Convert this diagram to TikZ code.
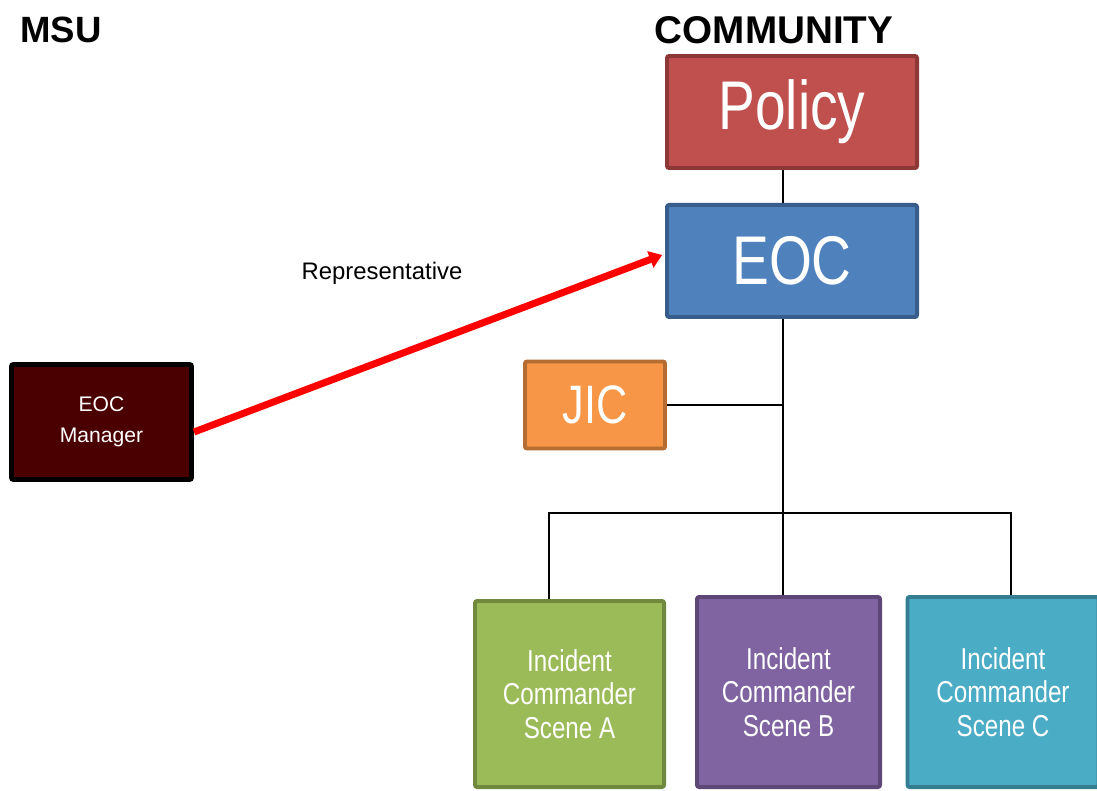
\documentclass[tikz,border=0pt]{standalone}
\usepackage{fontspec}
\setmainfont{Liberation Sans}
\newfontfamily\narrowsf[FakeStretch=0.8]{Liberation Sans}
\usepackage{tikz}
\usetikzlibrary{positioning,arrows.meta}
\definecolor{policyfill}{HTML}{C0504D}
\definecolor{policyline}{HTML}{8C3836}
\definecolor{eocfill}{HTML}{4F81BD}
\definecolor{eocline}{HTML}{385D8A}
\definecolor{jicfill}{HTML}{F79646}
\definecolor{jicline}{HTML}{B66D31}
\definecolor{mgrfill}{HTML}{4A0000}
\definecolor{scenea}{HTML}{9BBB59}
\definecolor{sceneaa}{HTML}{71893F}
\definecolor{sceneb}{HTML}{8064A2}
\definecolor{scenebb}{HTML}{5C4776}
\definecolor{scenec}{HTML}{4BACC6}
\definecolor{scenecc}{HTML}{357D91}

\begin{document}
\begin{tikzpicture}[x=0.025cm,y=-0.025cm,
    unit/.style={draw, line width=2.8pt, rounded corners=1.5pt, text=white, align=center, inner sep=0pt},
    bigunit/.style={unit, minimum width=6.25cm, minimum height=2.8cm, font=\narrowsf\fontsize{49}{52}\selectfont},
    scene/.style={unit, font=\narrowsf\fontsize{21.5}{24}\selectfont},
    title/.style={font=\bfseries\fontsize{26}{28}\selectfont},
    link/.style={line width=1.2pt}]
  \useasboundingbox (0,0) rectangle (1097,790);
  \node[title] (msu) at (61,30) {MSU};
  \node[title, font=\bfseries\fontsize{27.5}{30}\selectfont] (comm) at (774,30) {COMMUNITY};
  \node[bigunit, fill=policyfill, draw=policyline] (policy) at (792,112) {Policy};
  \node[bigunit, fill=eocfill, draw=eocline, below=0.825cm of policy] (eoc) {EOC};
  \node[unit, fill=jicfill, draw=jicline, minimum width=3.5cm, minimum height=2.175cm,
    font=\narrowsf\fontsize{38.5}{42}\selectfont] (jic) at (595,405) {JIC};
  \node[unit, fill=mgrfill, draw=black, line width=3.5pt, minimum width=4.5cm, minimum height=2.875cm,
    font=\fontsize{15}{22}\selectfont] (mgr) at (101.5,422) {EOC\\Manager};
  \node[scene, fill=scenea, draw=sceneaa, minimum width=4.725cm, minimum height=4.65cm] (scA) at (569.5,694) {Incident\\Commander\\Scene A};
  \node[scene, fill=sceneb, draw=scenebb, minimum width=4.575cm, minimum height=4.75cm] (scB) at (788.5,692) {Incident\\Commander\\Scene B};
  \node[scene, fill=scenec, draw=scenecc, minimum width=4.775cm, minimum height=4.75cm] (scC) at (1003,692) {Incident\\Commander\\Scene C};
  \coordinate (hub) at (783,405);
  \coordinate (bus) at (783,513);
  \coordinate (busA) at (549,513);
  \coordinate (busC) at (1011,513);
  \draw[link] (policy.south -| hub) -- (eoc.north -| hub);
  \draw[link] (eoc.south -| hub) -- (hub) -- (bus) -- (scB.north -| bus);
  \draw[link] (jic.east) -- (hub);
  \draw[link] (scA.north -| busA) -- (busA) -- (busC) -- (scC.north -| busC);
  \draw[red, line width=5pt, -{Triangle[width=12pt,length=9pt]}]
    ([yshift=-0.25cm]mgr.east) -- ([xshift=-2pt,yshift=0.15cm]eoc.west);
  \node[font=\fontsize{17}{19}\selectfont] (rep) at (382,273) {Representative};
\end{tikzpicture}
\end{document}
